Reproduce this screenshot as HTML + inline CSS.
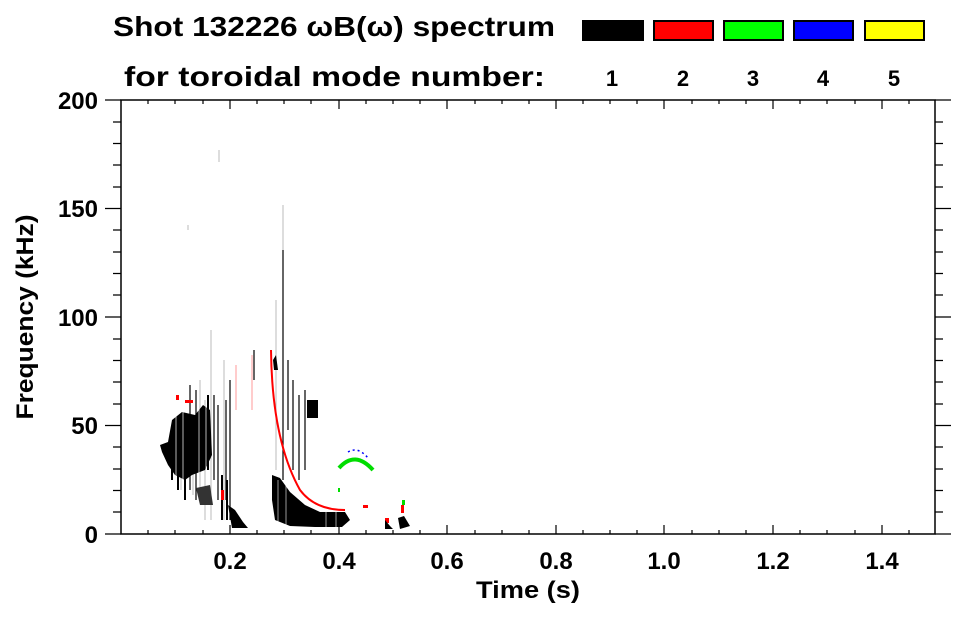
<!DOCTYPE html>
<html><head><meta charset="utf-8"><style>
body{margin:0;background:#fff}
svg text{font-family:"Liberation Sans",sans-serif;font-weight:bold;fill:#000}
</style></head><body>
<svg width="963" height="615" viewBox="0 0 963 615" xmlns="http://www.w3.org/2000/svg">
<text x="113" y="36" font-size="28" textLength="442" lengthAdjust="spacingAndGlyphs">Shot 132226 ωB(ω) spectrum</text>
<text x="124" y="86" font-size="28" textLength="421" lengthAdjust="spacingAndGlyphs">for toroidal mode number:</text>
<rect x="582" y="20" width="62" height="21" fill="#000"/>
<rect x="654" y="21" width="59" height="19" fill="#f00" stroke="#000" stroke-width="2"/>
<rect x="724" y="21" width="59" height="19" fill="#0f0" stroke="#000" stroke-width="2"/>
<rect x="794" y="21" width="59" height="19" fill="#00f" stroke="#000" stroke-width="2"/>
<rect x="865" y="21" width="59" height="19" fill="#ff0" stroke="#000" stroke-width="2"/>
<g font-size="22" text-anchor="middle">
<text x="612" y="86">1</text><text x="683" y="86">2</text><text x="753" y="86">3</text><text x="823" y="86">4</text><text x="894" y="86">5</text>
</g>
<!-- data -->
<g>
<g stroke="#bbb" stroke-width="1">
<line x1="219" y1="150" x2="219" y2="162"/><line x1="283" y1="205" x2="283" y2="480"/><line x1="276" y1="300" x2="276" y2="470"/>
<line x1="211" y1="330" x2="211" y2="520"/><line x1="188" y1="225" x2="188" y2="230"/><line x1="224" y1="360" x2="224" y2="520"/>
<line x1="205" y1="400" x2="205" y2="520"/><line x1="200" y1="380" x2="200" y2="500"/>
<line x1="181" y1="430" x2="181" y2="490"/><line x1="193" y1="420" x2="193" y2="495"/>
</g>
<g stroke="#000" stroke-width="1.2">
<line x1="283" y1="250" x2="283" y2="480"/><line x1="254" y1="350" x2="254" y2="380"/>
<line x1="230" y1="380" x2="230" y2="520"/><line x1="226" y1="400" x2="226" y2="500"/>
<line x1="190" y1="385" x2="190" y2="490"/><line x1="196" y1="390" x2="196" y2="500"/>
<line x1="214" y1="395" x2="214" y2="480"/><line x1="218" y1="405" x2="218" y2="500"/>
<line x1="299" y1="395" x2="299" y2="480"/><line x1="293" y1="380" x2="293" y2="470"/><line x1="305" y1="390" x2="305" y2="470"/>
<line x1="288" y1="360" x2="288" y2="430"/>
</g>
<path d="M160,445 L168,442 L172,420 L182,412 L195,415 L203,405 L210,410 L212,455 L205,470 L192,475 L185,480 L175,475 L168,465 L162,452 Z" fill="#000"/>
<g stroke="#fff" stroke-width="1" opacity="0.7">
<line x1="176" y1="410" x2="176" y2="480"/><line x1="183" y1="410" x2="183" y2="480"/><line x1="199" y1="405" x2="199" y2="480"/><line x1="206" y1="405" x2="206" y2="480"/>
</g>
<g stroke="#000" stroke-width="2">
<line x1="172" y1="440" x2="172" y2="480"/><line x1="178" y1="420" x2="178" y2="490"/><line x1="185" y1="420" x2="185" y2="500"/>
<line x1="208" y1="395" x2="208" y2="470"/><line x1="222" y1="475" x2="222" y2="520"/><line x1="227" y1="480" x2="227" y2="520"/>
</g>
<path d="M228,505 L235,510 L243,522 L248,528 L232,528 Z" fill="#000"/>
<path d="M196,488 L210,485 L213,505 L200,505 Z" fill="#333"/>
<path d="M272,475 L280,478 L290,492 L305,505 L320,512 L345,512 L350,520 L342,527 L315,527 L290,526 L275,520 L272,500 Z" fill="#000"/>
<g stroke="#fff" stroke-width="1" opacity="0.6">
<line x1="278" y1="480" x2="278" y2="526"/><line x1="286" y1="485" x2="286" y2="526"/><line x1="326" y1="510" x2="326" y2="527"/><line x1="336" y1="510" x2="336" y2="527"/>
</g>
<path d="M307,400 L318,400 L318,418 L307,418 Z" fill="#000"/>
<path d="M273,360 L276,355 L278,370 L274,370Z" fill="#000"/>
<path d="M271,350 Q272,440 300,490 Q315,510 345,510" fill="none" stroke="#f00" stroke-width="2"/>
<g fill="#f00">
<rect x="176" y="395" width="3" height="5"/><rect x="185" y="400" width="8" height="3"/><rect x="221" y="490" width="3" height="10"/>
<rect x="385" y="518" width="4" height="5"/><rect x="401" y="505" width="3" height="8"/><rect x="363" y="505" width="5" height="3"/>
</g>
<g stroke="#f99" stroke-width="1"><line x1="252" y1="355" x2="252" y2="410"/><line x1="236" y1="365" x2="236" y2="410"/></g>
<path d="M339,468 Q355,450 373,470" fill="none" stroke="#0d0" stroke-width="4"/>
<path d="M348,452 Q358,446 368,458" fill="none" stroke="#00f" stroke-width="1.5" stroke-dasharray="2 3"/>
<rect x="338" y="488" width="2" height="4" fill="#0d0"/><rect x="402" y="500" width="3" height="5" fill="#0d0"/>
<path d="M385,520 L390,526 L393,529 L385,529Z" fill="#000"/>
<path d="M398,518 L404,516 L410,526 L400,529 Z" fill="#000"/>
</g>
<g stroke="#000" stroke-width="1.5" fill="none">
<rect x="121" y="100" width="814" height="434"/>
</g>
<g stroke="#000" stroke-width="1.2">
<path d="M105,100H121M105,208.5H121M105,317H121M105,425.5H121M105,534H121
M113,122H121M113,143.5H121M113,165H121M113,187H121M113,230H121M113,252H121M113,273.5H121M113,295H121M113,339H121M113,360.5H121M113,382H121M113,404H121M113,447H121M113,469H121M113,490.5H121M113,512H121
M935,100H951M935,208.5H951M935,317H951M935,425.5H951M935,534H951
M935,122H943M935,143.5H943M935,165H943M935,187H943M935,230H943M935,252H943M935,273.5H943M935,295H943M935,339H943M935,360.5H943M935,382H943M935,404H943M935,447H943M935,469H943M935,490.5H943M935,512H943"/>
<path d="M230,100V109M339,100V109M447,100V109M556,100V109M664,100V109M773,100V109M882,100V109
M230,534V525M339,534V525M447,534V525M556,534V525M664,534V525M773,534V525M882,534V525
M148,100V104M175,100V104M203,100V104M257,100V104M284,100V104M311,100V104M366,100V104M393,100V104M420,100V104M475,100V104M502,100V104M529,100V104M583,100V104M610,100V104M637,100V104M692,100V104M719,100V104M746,100V104M800,100V104M827,100V104M855,100V104M909,100V104
M148,534V530M175,534V530M203,534V530M257,534V530M284,534V530M311,534V530M366,534V530M393,534V530M420,534V530M475,534V530M502,534V530M529,534V530M583,534V530M610,534V530M637,534V530M692,534V530M719,534V530M746,534V530M800,534V530M827,534V530M855,534V530M909,534V530"/>
</g>
<g font-size="24" text-anchor="end">
<text x="98" y="109">200</text><text x="98" y="217">150</text><text x="98" y="326">100</text><text x="98" y="434">50</text><text x="98" y="543">0</text>
</g>
<g font-size="24" text-anchor="middle">
<text x="230" y="569">0.2</text><text x="339" y="569">0.4</text><text x="447" y="569">0.6</text><text x="556" y="569">0.8</text><text x="664" y="569">1.0</text><text x="773" y="569">1.2</text><text x="882" y="569">1.4</text>
<text x="528" y="598" textLength="104" lengthAdjust="spacingAndGlyphs">Time (s)</text>
<text transform="translate(33,317) rotate(-90)" textLength="205" lengthAdjust="spacingAndGlyphs">Frequency (kHz)</text>
</g>
</svg>
</body></html>
